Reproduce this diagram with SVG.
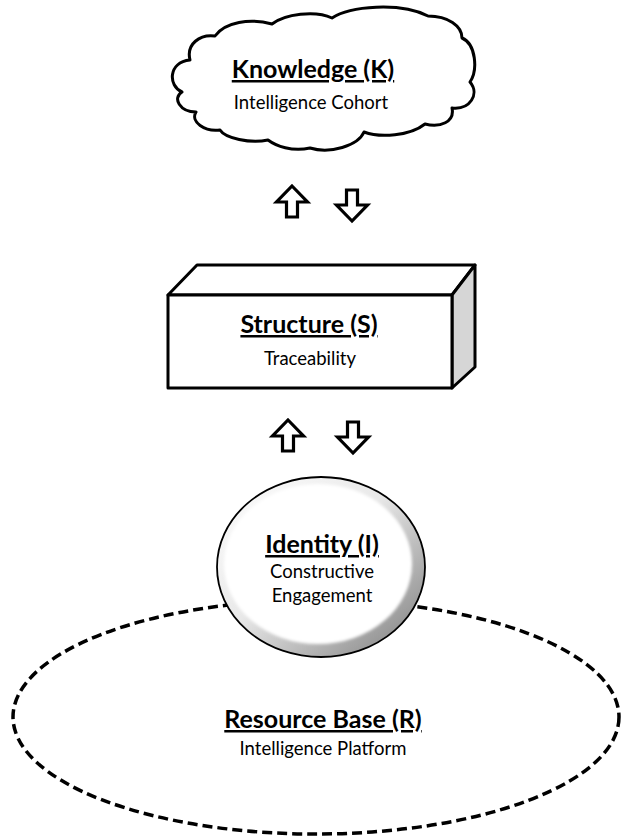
<svg xmlns="http://www.w3.org/2000/svg" xmlns:xlink="http://www.w3.org/1999/xlink" width="624" height="840" viewBox="0 0 624 840">
  <style>
    .title { font-family: Lato, "Open Sans", "Liberation Sans", sans-serif; font-weight: bold; font-size: 25px; fill: #000; text-anchor: middle; text-decoration: underline; text-decoration-skip-ink: none; text-decoration-thickness: 2.5px; }
    .sub { font-family: Lato, "Open Sans", "Liberation Sans", sans-serif; font-size: 18.5px; fill: #000; text-anchor: middle; }
    .outline { fill: #fff; stroke: #000; stroke-width: 3; stroke-linejoin: round; }
    .arrow { fill: #fff; stroke: #000; stroke-width: 3.2; stroke-linejoin: miter; }
  </style>
  <defs>
    <!-- hollow block arrow pointing up, origin at the base of the head -->
    <path id="blockArrow" d="M0,-16 L15.5,0 L5.5,0 L5.5,15 L-5.5,15 L-5.5,0 L-15.5,0 Z"/>
    <linearGradient id="ringGrad" x1="0" y1="0" x2="1" y2="1">
      <stop offset="0" stop-color="#ffffff"/>
      <stop offset="0.45" stop-color="#e8e8e8"/>
      <stop offset="1" stop-color="#7a7a7a"/>
    </linearGradient>
    <filter id="soft" x="-10%" y="-10%" width="120%" height="120%">
      <feGaussianBlur stdDeviation="1.5"/>
    </filter>
  </defs>

  <rect width="624" height="840" fill="#fff"/>

  <!-- Knowledge cloud -->
  <g id="knowledge">
    <path class="outline" stroke-width="2.5" d="M182,92 C168,86 168,62 190,60 C186,44 200,34 215,36 C225,22 250,18 272,24 C285,14 315,10 332,18 C350,6 400,2 428,16 C448,16 462,26 462,38 C476,44 478,70 470,82 C480,94 470,110 452,108 C455,122 440,128 425,124 C410,136 380,138 364,132 C358,146 330,154 310,148 C292,152 276,146 268,140 C250,144 225,138 220,130 C205,132 190,122 196,112 C180,112 172,98 182,92 Z"/>
    <text class="title" x="313" y="78">Knowledge (K)</text>
    <text class="sub" x="311" y="109">Intelligence Cohort</text>
  </g>

  <!-- Structure block -->
  <g id="structure">
    <polygon class="outline" points="168,295 197,265 475,265 452,295"/>
    <polygon class="outline" style="fill:#d6d6d6" points="452,295 475,265 475,367 452,388"/>
    <rect class="outline" x="168" y="295" width="284" height="93"/>
    <text class="title" x="309" y="333">Structure (S)</text>
    <text class="sub" x="310" y="365">Traceability</text>
  </g>

  <!-- Resource base, dashed boundary -->
  <g id="resource-base">
    <ellipse cx="316" cy="717" rx="303" ry="117" fill="none" stroke="#000" stroke-width="3.5" stroke-dasharray="10 5"/>
    <text class="title" x="323" y="728">Resource Base (R)</text>
    <text class="sub" x="323" y="755">Intelligence Platform</text>
  </g>

  <!-- Identity disc with bevelled rim -->
  <g id="identity">
    <ellipse cx="321" cy="567" rx="104" ry="90" fill="url(#ringGrad)" stroke="#000" stroke-width="1.8"/>
    <ellipse cx="318" cy="564" rx="94" ry="80" fill="#fff" filter="url(#soft)"/>
    <text class="title" x="322" y="553">Identity (I)</text>
    <text class="sub" x="322" y="578">Constructive</text>
    <text class="sub" x="322" y="602">Engagement</text>
  </g>

  <!-- exchange arrows between the layers -->
  <g id="connectors">
    <use xlink:href="#blockArrow" class="arrow" transform="translate(292,202)"/>
    <use xlink:href="#blockArrow" class="arrow" transform="translate(352,205) rotate(180)"/>
    <use xlink:href="#blockArrow" class="arrow" transform="translate(288,436)"/>
    <use xlink:href="#blockArrow" class="arrow" transform="translate(353,437) rotate(180)"/>
  </g>
</svg>
